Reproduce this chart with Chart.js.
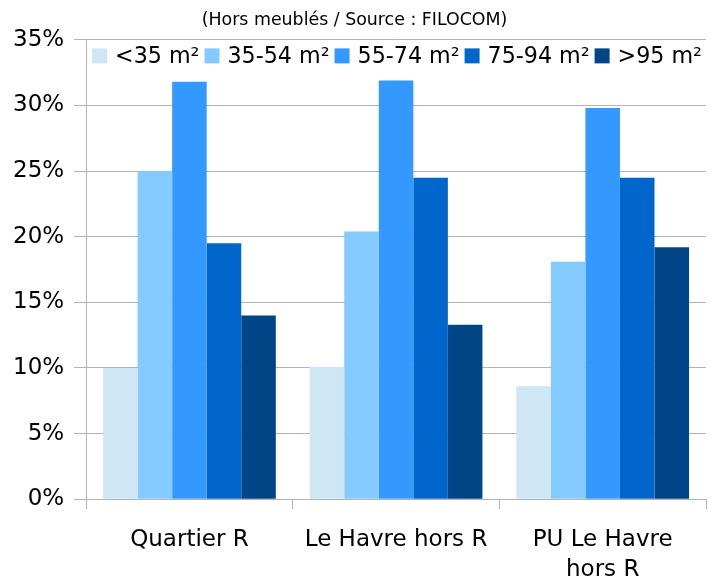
<!DOCTYPE html>
<html>
<head>
<meta charset="utf-8">
<script src="https://cdn.jsdelivr.net/npm/chart.js@4/dist/chart.umd.min.js"></script>
<style>
  html, body { margin: 0; padding: 0; background: #fff; }
  #wrap { width: 715px; height: 581px; }
</style>
</head>
<body>
<div id="wrap"><canvas id="chart"></canvas></div>
<script>
// Categories and series (percent of dwellings by surface)
const categories = ['Quartier R', 'Le Havre hors R', ['PU Le Havre', 'hors R']];
const seriesNames = ['<35 m²', '35-54 m²', '55-74 m²', '75-94 m²', '>95 m²'];
const under35 = [10.0, 10.1, 8.6];
const from35to54 = [25.0, 20.4, 18.1];
const from55to74 = [31.8, 31.9, 29.8];
const from75to94 = [19.5, 24.5, 24.5];
const over95 = [14.0, 13.3, 19.2];
const seriesColors = ['#cfe6f4', '#83caff', '#3399ff', '#0066cc', '#004586'];

const gridGray = '#b3b3b3';
const font = 'DejaVu Sans';

const values = [under35, from35to54, from55to74, from75to94, over95];
const datasets = seriesNames.map((name, i) => ({
    label: name,
    data: values[i],
    backgroundColor: seriesColors[i],
    borderWidth: 0,
    barPercentage: 1.0,
    categoryPercentage: 0.836
}));

// legend drawn inside the plot area, along the top edge
const insideLegend = {
    id: 'insideLegend',
    afterDatasetsDraw(chart) {
        const ctx = chart.ctx;
        const area = chart.chartArea;
        const box = 15;
        let x = area.left + 6;
        const y = area.top + 16;
        ctx.save();
        ctx.font = '22.2px "' + font + '"';
        ctx.textBaseline = 'middle';
        ctx.textAlign = 'left';
        chart.data.datasets.forEach((ds) => {
            ctx.fillStyle = ds.backgroundColor;
            ctx.fillRect(x, y - box / 2, box, box);
            x += box + 8;
            ctx.fillStyle = '#000';
            ctx.fillText(ds.label, x, y + 1);
            x += ctx.measureText(ds.label).width + 5;
        });
        ctx.restore();
    }
};

new Chart(document.getElementById('chart').getContext('2d'), {
    type: 'bar',
    data: { labels: categories, datasets: datasets },
    plugins: [insideLegend],
    options: {
        responsive: true,
        maintainAspectRatio: false,
        animation: false,
        layout: { padding: { left: 3, right: 9, top: 7, bottom: -20 } },
        plugins: {
            title: {
                display: true,
                text: '(Hors meublés / Source : FILOCOM)',
                color: '#000',
                font: { family: font, size: 17.4, weight: 'normal' },
                padding: { top: 3, bottom: 9 }
            },
            legend: { display: false },
            tooltip: { enabled: false }
        },
        scales: {
            x: {
                grid: {
                    offset: true,
                    color: (ctx) => (ctx.index === 0 || ctx.index === categories.length) ? gridGray : 'transparent',
                    tickColor: gridGray,
                    tickLength: 10
                },
                border: { display: true, color: gridGray },
                ticks: {
                    color: '#000',
                    font: { family: font, size: 23, lineHeight: 1.3 },
                    padding: 16,
                    maxRotation: 0
                }
            },
            y: {
                min: 0,
                max: 35,
                grid: { color: gridGray, tickLength: 12 },
                border: { display: true, color: gridGray },
                ticks: {
                    stepSize: 5,
                    color: '#000',
                    font: { family: font, size: 23 },
                    padding: 10,
                    callback: (v) => v + '%'
                }
            }
        }
    }
});
</script>
</body>
</html>
